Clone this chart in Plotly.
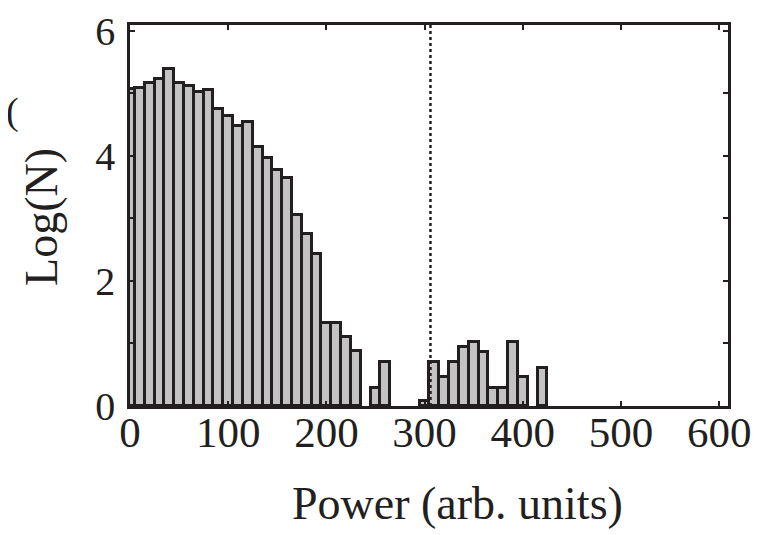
import plotly.graph_objects as go

# Histogram of log counts, bins centred every 10 units (None = empty bin)
bin_centers = list(range(0, 430, 10))
log_counts = [
    5.06, 5.08, 5.17, 5.23, 5.39, 5.17, 5.11, 5.02, 5.05, 4.75,
    4.63, 4.47, 4.54, 4.14, 3.96, 3.77, 3.65, 3.06, 2.75, 2.43,
    1.33, 1.33, 1.11, 0.88, None, 0.29, 0.70, None, None, None,
    0.08, 0.70, 0.47, 0.70, 0.95, 1.02, 0.86, 0.29, 0.29, 1.02,
    0.47, None, 0.60,
]
threshold = 306
x_ticks = [0, 100, 200, 300, 400, 500, 600]
y_ticks = [0, 2, 4, 6]

ink = "#231f20"
serif = "Liberation Serif, Times New Roman, serif"

fig = go.Figure(
    go.Bar(
        x=bin_centers,
        y=log_counts,
        width=10,
        marker={"color": "#c3c3c3", "line": {"color": ink, "width": 3}},
        showlegend=False,
    )
)

# dashed threshold line
fig.add_shape(
    type="line",
    x0=threshold, x1=threshold, y0=0, y1=1,
    xref="x", yref="paper",
    line={"color": ink, "width": 2.5, "dash": "3px,3px"},
)

axis_common = dict(
    showline=True,
    linecolor=ink,
    linewidth=2.5,
    mirror="ticks",
    ticks="inside",
    ticklen=5,
    tickwidth=2,
    tickcolor=ink,
    showgrid=False,
    zeroline=False,
    automargin=False,
)

fig.update_xaxes(
    range=[0, 609],
    tickvals=x_ticks,
    ticklabelstandoff=-13,
    tickfont={"family": serif, "size": 43, "color": ink},
    **axis_common,
)
fig.update_yaxes(
    range=[0, 6.09],
    tickvals=y_ticks,
    minor={"dtick": 1, "ticks": "inside", "ticklen": 5, "tickcolor": ink, "tickwidth": 2},
    ticklabelstandoff=4,
    tickfont={"family": serif, "size": 40, "color": ink},
    **axis_common,
)

fig.add_annotation(
    text="Power (arb. units)", x=0.547, y=-0.255, xref="paper", yref="paper",
    showarrow=False, font={"family": serif, "size": 46, "color": ink},
    xanchor="center", yanchor="middle",
)
fig.add_annotation(
    text="Log(N)", x=-0.149, y=0.496, xref="paper", yref="paper", textangle=-90,
    showarrow=False, font={"family": serif, "size": 46, "color": ink},
    xanchor="center", yanchor="middle",
)
# clipped panel label fragment at the left edge
fig.add_annotation(
    text="(", x=-0.211, y=0.772, xref="paper", yref="paper",
    showarrow=False, font={"family": serif, "size": 38, "color": ink},
    xanchor="left", yanchor="middle",
)

# page body adds an 8px offset, so the figure is 8px smaller than the window
fig.update_layout(
    width=765,
    height=527,
    plot_bgcolor="white",
    paper_bgcolor="white",
    bargap=0,
    margin={"l": 122, "r": 45, "t": 17, "b": 129},
)

fig.write_html("out.html")
